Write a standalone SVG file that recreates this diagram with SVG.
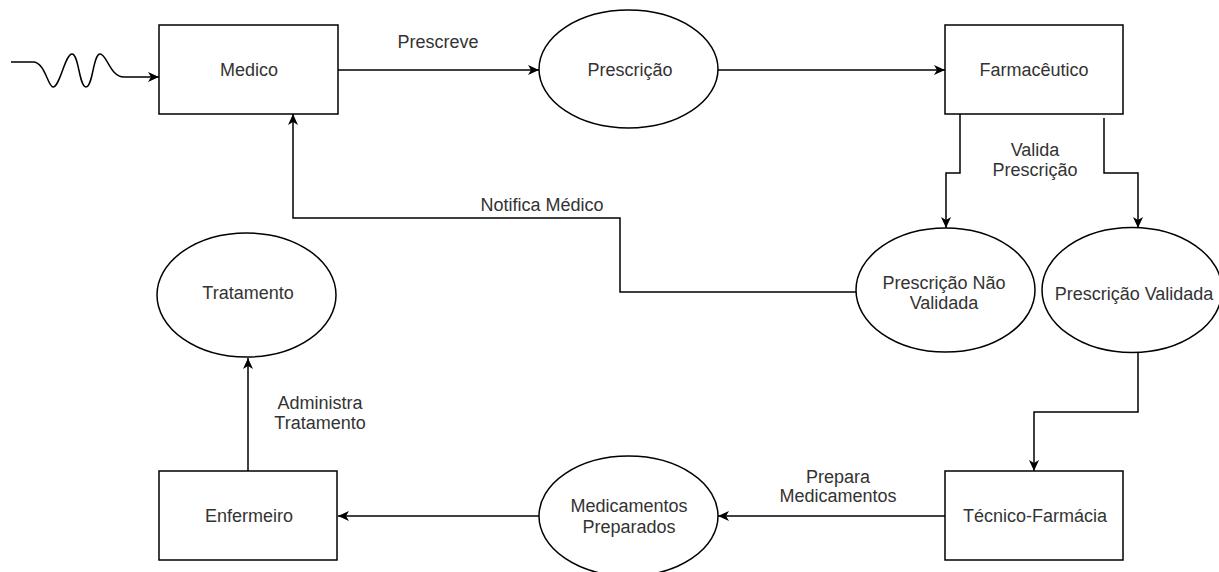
<svg xmlns="http://www.w3.org/2000/svg" width="1219" height="572" viewBox="0 0 1219 572">
  <defs>
    <marker id="arrow" viewBox="0 0 11 10" refX="11" refY="5" markerWidth="11" markerHeight="10" markerUnits="userSpaceOnUse" orient="auto">
      <path d="M0,0 L11,5 L0,10 L3,5 Z" fill="#000"/>
    </marker>
    <style>
      .box { fill: #fff; stroke: #000; stroke-width: 1.5; }
      .edge { fill: none; stroke: #000; stroke-width: 1.5; }
      .arr { marker-end: url(#arrow); }
      text { font-family: "Liberation Sans", Arial, Helvetica, sans-serif; font-size: 18px; fill: #333; text-anchor: middle; }
    </style>
  </defs>
  <rect width="1219" height="572" fill="#fff"/>

  <!-- connectors -->
  <g id="connectors">
    <!-- wavy entry into Medico -->
    <path class="edge arr" d="M11,62 L33,62 C45,62 48,87 53,87 C60,87 65,54 72,54 C79,54 79,87 86,87 C93,87 93,54 100,54 C107,54 110,77 124,77 L159,77"/>
    <path class="edge arr" d="M338,70 L539,70"/>
    <path class="edge arr" d="M718,70 L945,70"/>
    <path class="edge arr" d="M960,114 L960,173 L946,173 L946,228"/>
    <path class="edge arr" d="M1104,118 L1104,173 L1138,173 L1138,228"/>
    <path class="edge arr" d="M856,292 L620,292 L620,218 L293,218 L293,114"/>
    <path class="edge arr" d="M1138,352 L1138,412 L1034,412 L1034,471"/>
    <path class="edge arr" d="M945,516 L718,516"/>
    <path class="edge arr" d="M539,516 L338,516"/>
    <path class="edge arr" d="M248,471 L248,358"/>
    <!-- connector labels -->
    <text x="438" y="48">Prescreve</text>
    <text x="1035" y="156">Valida</text>
    <text x="1035" y="176">Prescrição</text>
    <text x="542" y="211">Notifica Médico</text>
    <text x="320" y="409">Administra</text>
    <text x="320" y="429">Tratamento</text>
    <text x="838" y="483">Prepara</text>
    <text x="838" y="502">Medicamentos</text>
  </g>

  <g id="medico">
    <rect class="box" x="159" y="25" width="179" height="89"/>
    <text x="249" y="76">Medico</text>
  </g>
  <g id="prescricao">
    <ellipse class="box" cx="628.5" cy="69" rx="89.5" ry="59"/>
    <text x="630" y="76">Prescrição</text>
  </g>
  <g id="farmaceutico">
    <rect class="box" x="945" y="25" width="178" height="89"/>
    <text x="1034" y="76">Farmacêutico</text>
  </g>
  <g id="prescricao-nao-validada">
    <ellipse class="box" cx="945.5" cy="290" rx="89.5" ry="62"/>
    <text x="944" y="289">Prescrição Não</text>
    <text x="944" y="309">Validada</text>
  </g>
  <g id="prescricao-validada">
    <ellipse class="box" cx="1132" cy="290" rx="90" ry="62.5"/>
    <text x="1134" y="300">Prescrição Validada</text>
  </g>
  <g id="tratamento">
    <ellipse class="box" cx="246.5" cy="295" rx="89.5" ry="62"/>
    <text x="248" y="299">Tratamento</text>
  </g>
  <g id="enfermeiro">
    <rect class="box" x="159" y="471" width="178" height="89"/>
    <text x="249" y="522">Enfermeiro</text>
  </g>
  <g id="medicamentos-preparados">
    <ellipse class="box" cx="628.5" cy="516" rx="89.5" ry="60"/>
    <text x="629" y="512">Medicamentos</text>
    <text x="629" y="533">Preparados</text>
  </g>
  <g id="tecnico-farmacia">
    <rect class="box" x="945" y="471" width="178" height="89"/>
    <text x="1035" y="522">Técnico-Farmácia</text>
  </g>
</svg>
